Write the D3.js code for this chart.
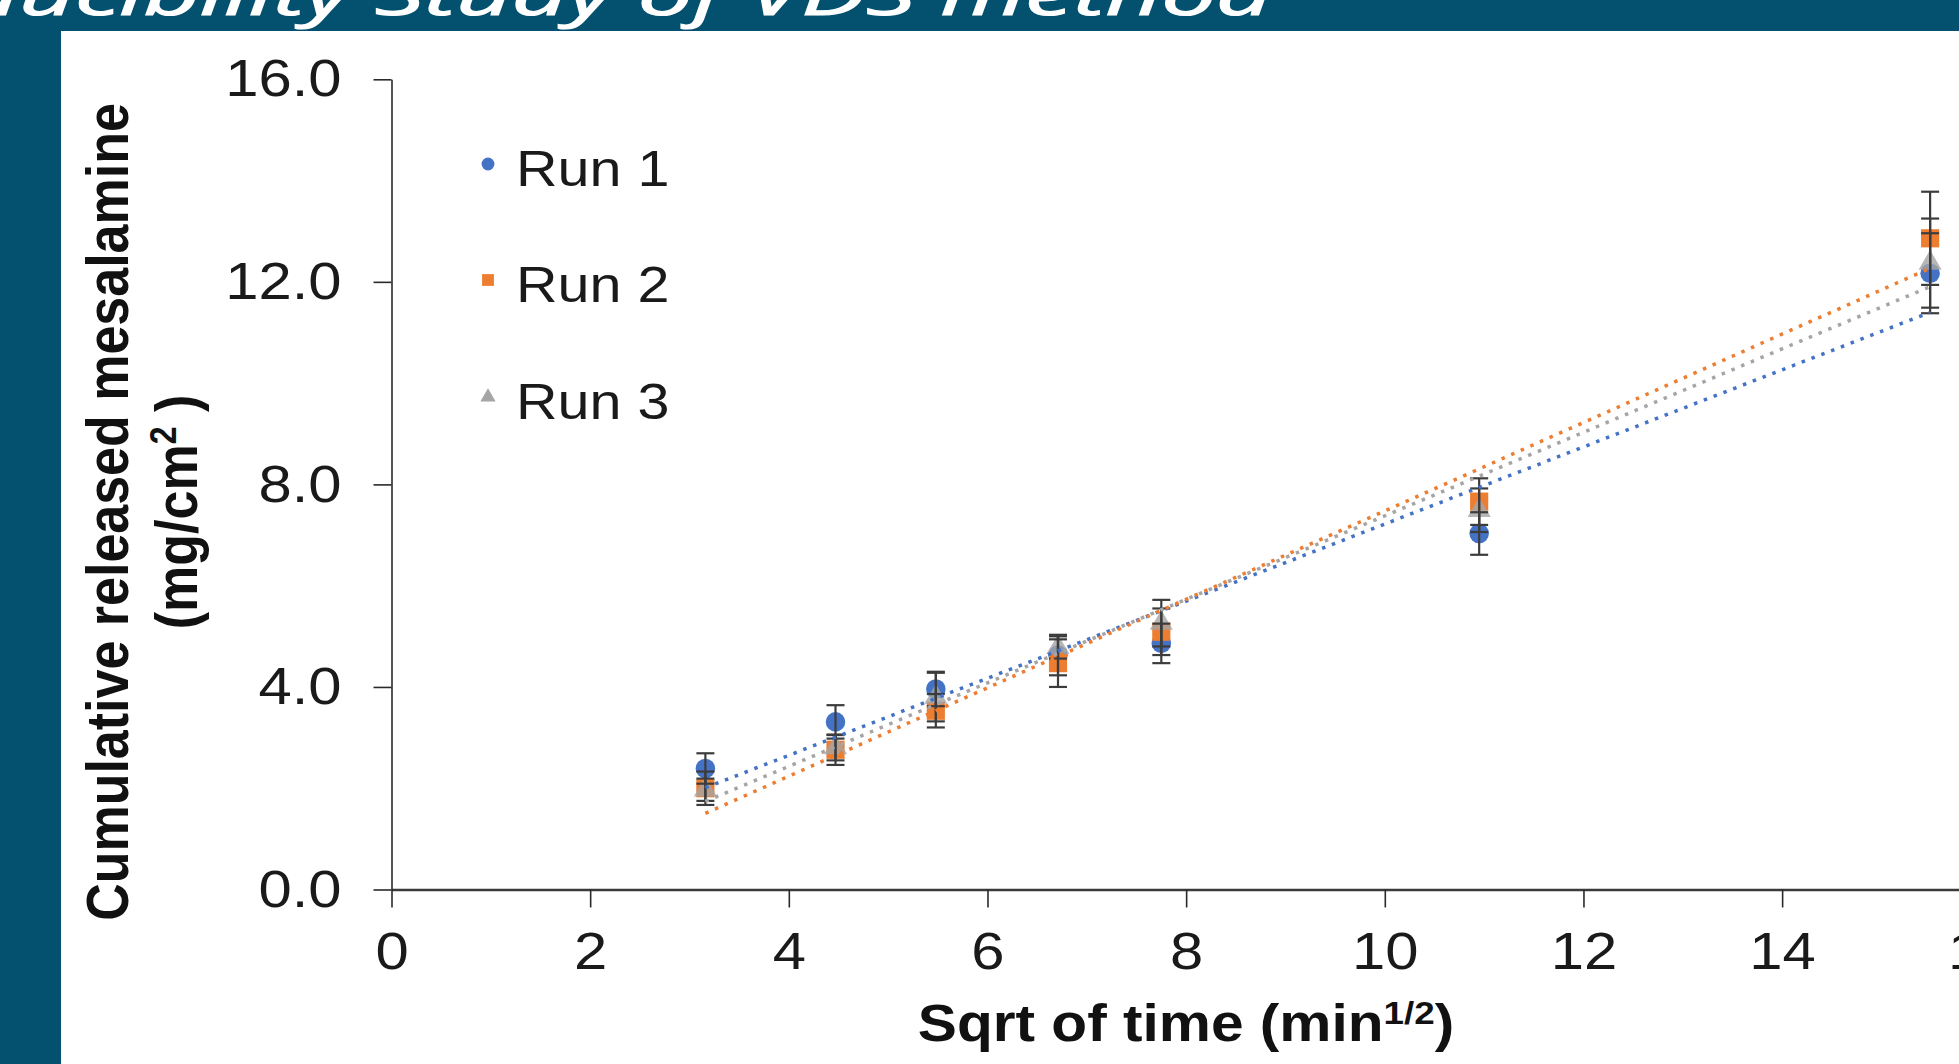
<!DOCTYPE html>
<html>
<head>
<meta charset="utf-8">
<script src="https://cdn.jsdelivr.net/npm/d3@7"></script>
<style>
  html, body { margin: 0; padding: 0; background: #fff; overflow: hidden; }
  svg { display: block; }
</style>
</head>
<body>
<svg id="chart"></svg>
<script>
// Values
const sqrtTime = [3.16, 4.47, 5.48, 6.71, 7.75, 10.95, 15.49];
const run1 = [2.39, 3.31, 3.96, 4.63, 4.86, 7.03, 12.17];
const run1Err = [0.30, 0.33, 0.34, 0.40, 0.39, 0.42, 0.79];
const run2 = [2.00, 2.76, 3.53, 4.47, 5.09, 7.66, 12.86];
const run2Err = [0.33, 0.30, 0.33, 0.47, 0.46, 0.46, 0.92];
const run3 = [1.97, 2.80, 3.80, 4.78, 5.26, 7.49, 12.37];
const run3Err = [0.22, 0.25, 0.48, 0.22, 0.46, 0.43, 0.88];
const seriesNames = ["Run 1", "Run 2", "Run 3"];
const xTicks = [0, 2, 4, 6, 8, 10, 12, 14, 16];
const yTicks = [0, 4, 8, 12, 16];
const titleText = "Reproducibility Study of VDS method";

// Page geometry
var width = 1959, height = 1064;
var x0 = 391.5, xUnit = 99.33,
    y0 = 889.5, yTop = 79.3;
var stretch = 1.15; // the picture is a bit wider than tall
var band = "#03506f";

const series = [
  {name: seriesNames[0], y: run1, err: run1Err, color: "#4472C4", symbol: d3.symbolCircle, size: 300, legendSize: 130, opacity: 1},
  {name: seriesNames[1], y: run2, err: run2Err, color: "#ED7D31", symbol: d3.symbolSquare, size: 330, legendSize: 140, opacity: 1},
  {name: seriesNames[2], y: run3, err: run3Err, color: "#A5A5A5", symbol: d3.symbolTriangle, size: 230, legendSize: 100, opacity: 0.8}
];

var svg = d3.select("#chart").attr("width", width).attr("height", height)
  .style("font-family", "'Liberation Sans', Arial, sans-serif");

svg.append("rect").attr("width", width).attr("height", height).attr("fill", "#fff");

// Slide frame: title band and left band
svg.append("rect").attr("x", 0).attr("y", 0).attr("width", width).attr("height", 31).attr("fill", band);
svg.append("rect").attr("x", 0).attr("y", 0).attr("width", 61).attr("height", height).attr("fill", band);
svg.append("text")
  .attr("x", -290).attr("y", 15)
  .attr("textLength", 1562).attr("lengthAdjust", "spacingAndGlyphs")
  .attr("fill", "#fff")
  .attr("stroke", "#fff").attr("stroke-width", 1.2)
  .style("font-family", "'Open Sans', sans-serif")
  .style("font-style", "italic")
  .style("font-size", "58px")
  .text(titleText);

// Scales
const xScale = d3.scaleLinear().domain([0, 16]).range([x0, x0 + 16 * xUnit]);
const yScale = d3.scaleLinear().domain([0, 16]).range([y0, yTop]);

// stretch a text node horizontally around its own anchor point
function widen(sel) {
  sel.each(function() {
    var t = d3.select(this);
    var tx = +t.attr("x") || 0, ty = +t.attr("y") || 0;
    t.attr("x", 0).attr("y", 0)
      .attr("transform", `translate(${tx},${ty}) scale(${stretch},1)`);
  });
}

// Axes
var xAxisG = svg.append("g")
  .attr("transform", `translate(0,${y0})`)
  .call(d3.axisBottom(xScale).tickValues(xTicks).tickFormat(d3.format("d"))
    .tickSize(18).tickSizeOuter(0).tickPadding(25));
var yAxisG = svg.append("g")
  .attr("transform", `translate(${x0},0)`)
  .call(d3.axisLeft(yScale).tickValues(yTicks).tickFormat(d3.format(".1f"))
    .tickSize(18).tickSizeOuter(0).tickPadding(32));

xAxisG.select(".domain").attr("stroke", "#3a3a3a").attr("stroke-width", 2.6);
yAxisG.select(".domain").attr("stroke", "#2a2a2a").attr("stroke-width", 1.6);
xAxisG.selectAll(".tick line").attr("stroke", "#2a2a2a").attr("stroke-width", 1.6);
yAxisG.selectAll(".tick line").attr("stroke", "#2a2a2a").attr("stroke-width", 1.6);
svg.selectAll(".tick text")
  .attr("fill", "#1a1a1a")
  .style("font-family", "'Liberation Sans', Arial, sans-serif")
  .style("font-size", "52px");
xAxisG.selectAll(".tick text").call(widen);
yAxisG.selectAll(".tick text").call(widen);

// Axis titles
var yTitle = svg.append("g")
  .attr("font-weight", "bold").attr("font-size", 52).attr("fill", "#111")
  .attr("text-anchor", "middle");
yTitle.append("text")
  .attr("transform", `translate(128,512) scale(${stretch},1) rotate(-90)`)
  .text("Cumulative released mesalamine");
var yTitle2 = yTitle.append("text")
  .attr("transform", `translate(197,512) scale(${stretch},1) rotate(-90)`);
yTitle2.append("tspan").text("(mg/cm");
yTitle2.append("tspan").attr("dy", -18).attr("font-size", 32).text("2");
yTitle2.append("tspan").attr("dy", 18).text(" )");

var xTitle = svg.append("text")
  .attr("text-anchor", "middle")
  .attr("font-weight", "bold").attr("font-size", 51).attr("fill", "#111")
  .attr("transform", `translate(1186,1041) scale(${stretch},1)`);
xTitle.append("tspan").text("Sqrt of time (min");
xTitle.append("tspan").attr("dy", -17).attr("font-size", 32).text("1/2");
xTitle.append("tspan").attr("dy", 17).text(")");

// Markers per series
var plot = svg.append("g");
series.forEach(s => {
  plot.append("g").selectAll("path")
    .data(sqrtTime.map((x, i) => ({x: x, y: s.y[i]})))
    .join("path")
    .attr("d", d3.symbol().type(s.symbol).size(s.size))
    .attr("transform", d => `translate(${xScale(d.x)},${yScale(d.y)})`)
    .attr("fill", s.color)
    .attr("fill-opacity", s.opacity);
});

// Error bars
var capHalf = 9;
series.forEach(s => {
  var g = plot.append("g").attr("stroke", "#3c3c3c").attr("stroke-width", 2.2);
  var pts = sqrtTime.map((x, i) => ({x: x, lo: s.y[i] - s.err[i], hi: s.y[i] + s.err[i]}));
  g.selectAll(".stem").data(pts).join("line").attr("class", "stem")
    .attr("x1", d => xScale(d.x)).attr("x2", d => xScale(d.x))
    .attr("y1", d => yScale(d.lo)).attr("y2", d => yScale(d.hi));
  g.selectAll(".capHi").data(pts).join("line").attr("class", "capHi")
    .attr("x1", d => xScale(d.x) - capHalf).attr("x2", d => xScale(d.x) + capHalf)
    .attr("y1", d => yScale(d.hi)).attr("y2", d => yScale(d.hi));
  g.selectAll(".capLo").data(pts).join("line").attr("class", "capLo")
    .attr("x1", d => xScale(d.x) - capHalf).attr("x2", d => xScale(d.x) + capHalf)
    .attr("y1", d => yScale(d.lo)).attr("y2", d => yScale(d.lo));
});

// Linear trendlines (least squares), dotted
function fit(xs, ys) {
  var mx = d3.mean(xs), my = d3.mean(ys);
  var sxy = d3.sum(xs, (x, i) => (x - mx) * (ys[i] - my));
  var sxx = d3.sum(xs, x => (x - mx) * (x - mx));
  var b = sxy / sxx;
  return {slope: b, icpt: my - b * mx};
}
var xLo = d3.min(sqrtTime), xHi = d3.max(sqrtTime);
series.forEach(s => {
  var f = fit(sqrtTime, s.y);
  plot.append("line")
    .attr("x1", xScale(xLo)).attr("y1", yScale(f.icpt + f.slope * xLo))
    .attr("x2", xScale(xHi)).attr("y2", yScale(f.icpt + f.slope * xHi))
    .attr("stroke", s.color).attr("stroke-width", 3.5)
    .attr("stroke-dasharray", "3.5,7");
});

// Legend
var legend = svg.append("g");
var legendBase = [186, 302, 419];
series.forEach((s, i) => {
  legend.append("path")
    .attr("d", d3.symbol().type(s.symbol).size(s.legendSize))
    .attr("transform", `translate(488,${legendBase[i] - 22})`)
    .attr("fill", s.color);
  legend.append("text")
    .attr("transform", `translate(516,${legendBase[i]}) scale(${stretch},1)`)
    .attr("font-size", 50).attr("fill", "#1a1a1a")
    .text(s.name);
});
</script>
</body>
</html>
